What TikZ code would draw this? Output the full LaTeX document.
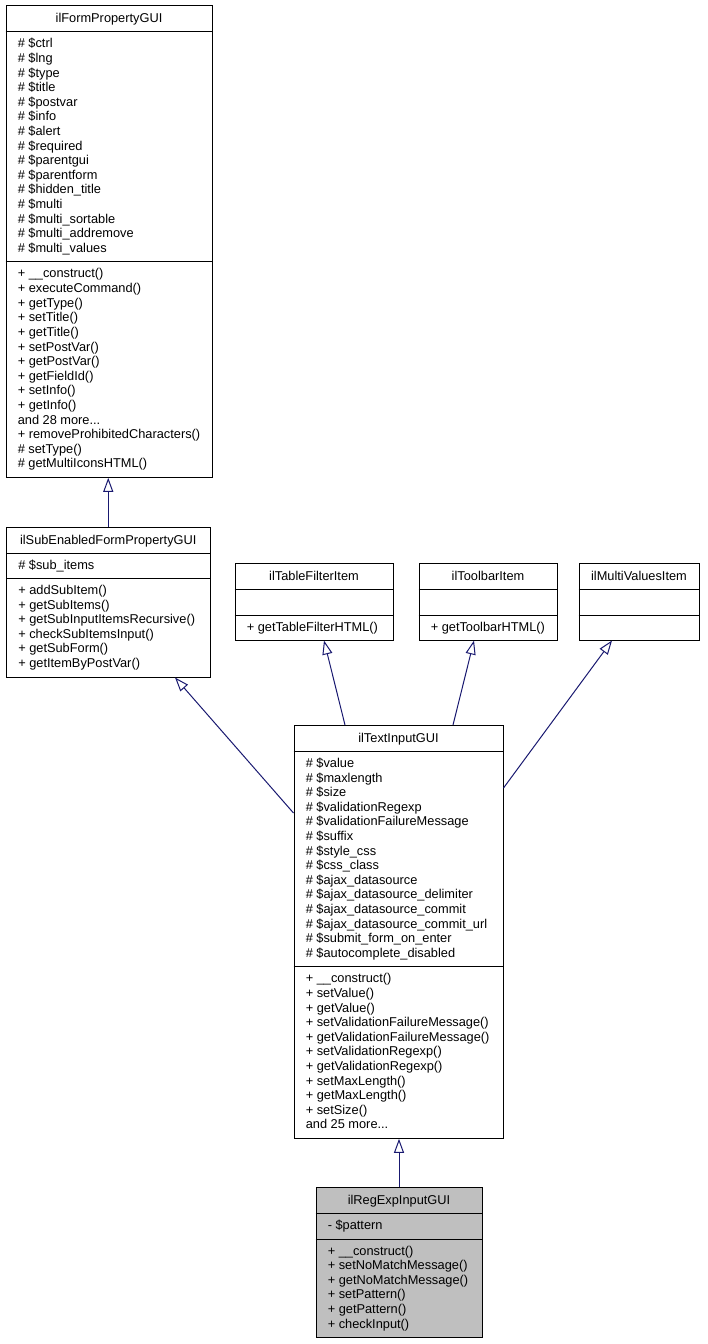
\documentclass[tikz,border=0pt]{standalone}
\usepackage{fontspec}
\setmainfont{Liberation Sans}
\usetikzlibrary{arrows.meta,fit}
\definecolor{EdgeClr}{RGB}{25,25,112}
\definecolor{ThisClr}{RGB}{191,191,191}

\tikzset{
  classbox/.style={draw=black,line width=0.75pt,inner sep=0pt},
  sepline/.style={draw=black,line width=0.75pt},
  classtitle/.style={font=\fontsize{9.6}{12}\selectfont,inner sep=0pt,anchor=base},
  member/.style={font=\fontsize{9.6}{12}\selectfont,inner sep=0pt,anchor=base west},
  inherit/.style={draw=EdgeClr,line width=0.75pt,
    -{Triangle[open,length=10.5pt,width=7.5pt]}},
}

% three dots kept out of the \foreach lists
\newcommand{\moredots}{...}
% one text line every 14.6 px, first line centred at #3
\newcommand{\memberlines}[4]{%
  \foreach \m [count=\k from 0] in {#4}
    \node[member] (#1-\k) at (#2,{#3+4.5+14.6*\k}) {\m};}

\begin{document}
\begin{tikzpicture}[x=0.75pt,y=-0.75pt]
\useasboundingbox (0,0) rectangle (707,1344);

% ilFormPropertyGUI
\node[classbox,fit={(6,6) (212,477.3)}] (form) {};
\node[classtitle] (form-t) at (109,23) {ilFormPropertyGUI};
\draw[sepline] (form.west |- 0,32) -- (form.east |- 0,32);
\draw[sepline] (form.west |- 0,262) -- (form.east |- 0,262);
\memberlines{forma}{17.5}{43.5}{\# \$ctrl,\# \$lng,\# \$type,\# \$title,\# \$postvar,
  \# \$info,\# \$alert,\# \$required,\# \$parentgui,\# \$parentform,
  \# \$hidden\_title,\# \$multi,\# \$multi\_sortable,\# \$multi\_addremove,
  \# \$multi\_values}
\memberlines{formm}{17.5}{273.5}{+ \_\_construct(),+ executeCommand(),+ getType(),
  + setTitle(),+ getTitle(),+ setPostVar(),+ getPostVar(),+ getFieldId(),
  + setInfo(),+ getInfo(),and 28 more\moredots,+ removeProhibitedCharacters(),
  \# setType(),\# getMultiIconsHTML()}

% ilSubEnabledFormPropertyGUI
\node[classbox,fit={(6.5,527) (210,677)}] (sub) {};
\node[classtitle] (sub-t) at (108.25,544) {ilSubEnabledFormPropertyGUI};
\draw[sepline] (sub.west |- 0,553) -- (sub.east |- 0,553);
\draw[sepline] (sub.west |- 0,578.5) -- (sub.east |- 0,578.5);
\memberlines{suba}{18}{564.5}{\# \$sub\_items}
\memberlines{subm}{18}{590}{+ addSubItem(),+ getSubItems(),
  + getSubInputItemsRecursive(),+ checkSubItemsInput(),+ getSubForm(),
  + getItemByPostVar()}

% ilTableFilterItem
\node[classbox,fit={(235,563.5) (393,640)}] (filter) {};
\node[classtitle] (filter-t) at (314,580.5) {ilTableFilterItem};
\draw[sepline] (filter.west |- 0,589.5) -- (filter.east |- 0,589.5);
\draw[sepline] (filter.west |- 0,615) -- (filter.east |- 0,615);
\memberlines{filterm}{246.5}{626.5}{+ getTableFilterHTML()}

% ilToolbarItem
\node[classbox,fit={(419,563.5) (557,640)}] (toolbar) {};
\node[classtitle] (toolbar-t) at (488,580.5) {ilToolbarItem};
\draw[sepline] (toolbar.west |- 0,589.5) -- (toolbar.east |- 0,589.5);
\draw[sepline] (toolbar.west |- 0,615) -- (toolbar.east |- 0,615);
\memberlines{toolbarm}{430.5}{626.5}{+ getToolbarHTML()}

% ilMultiValuesItem
\node[classbox,fit={(579,563.5) (699,640)}] (multi) {};
\node[classtitle] (multi-t) at (639,580.5) {ilMultiValuesItem};
\draw[sepline] (multi.west |- 0,589.5) -- (multi.east |- 0,589.5);
\draw[sepline] (multi.west |- 0,615) -- (multi.east |- 0,615);

% ilTextInputGUI
\node[classbox,fit={(294,725.5) (503,1138.3)}] (text) {};
\node[classtitle] (text-t) at (398.5,742.5) {ilTextInputGUI};
\draw[sepline] (text.west |- 0,751.5) -- (text.east |- 0,751.5);
\draw[sepline] (text.west |- 0,966.8) -- (text.east |- 0,966.8);
\memberlines{texta}{305.5}{763}{\# \$value,\# \$maxlength,\# \$size,
  \# \$validationRegexp,\# \$validationFailureMessage,\# \$suffix,
  \# \$style\_css,\# \$css\_class,\# \$ajax\_datasource,
  \# \$ajax\_datasource\_delimiter,\# \$ajax\_datasource\_commit,
  \# \$ajax\_datasource\_commit\_url,\# \$submit\_form\_on\_enter,
  \# \$autocomplete\_disabled}
\memberlines{textm}{305.5}{978.3}{+ \_\_construct(),+ setValue(),+ getValue(),
  + setValidationFailureMessage(),+ getValidationFailureMessage(),
  + setValidationRegexp(),+ getValidationRegexp(),+ setMaxLength(),
  + getMaxLength(),+ setSize(),and 25 more\moredots}

% ilRegExpInputGUI
\node[classbox,fill=ThisClr,fit={(316,1187.5) (482,1337.5)}] (regexp) {};
\node[classtitle] (regexp-t) at (399,1204.5) {ilRegExpInputGUI};
\draw[sepline] (regexp.west |- 0,1213.5) -- (regexp.east |- 0,1213.5);
\draw[sepline] (regexp.west |- 0,1239) -- (regexp.east |- 0,1239);
\memberlines{regexpa}{327.5}{1225}{- \$pattern}
\memberlines{regexpm}{327.5}{1250.5}{+ \_\_construct(),+ setNoMatchMessage(),
  + getNoMatchMessage(),+ setPattern(),+ getPattern(),+ checkInput()}

% Inheritance
\draw[inherit] (sub.north) -- (sub.north |- form.south);
\draw[inherit] (text.west |- 0,813) -- (sub.south -| 175,0);
\draw[inherit] (text.north -| 345,0) -- (filter.south -| 324,0);
\draw[inherit] (text.north -| 453,0) -- (toolbar.south -| 474,0);
\draw[inherit] (text.east |- 0,788) -- (multi.south -| 612,0);
\draw[inherit] (regexp.north) -- (regexp.north |- text.south);

\end{tikzpicture}
\end{document}
